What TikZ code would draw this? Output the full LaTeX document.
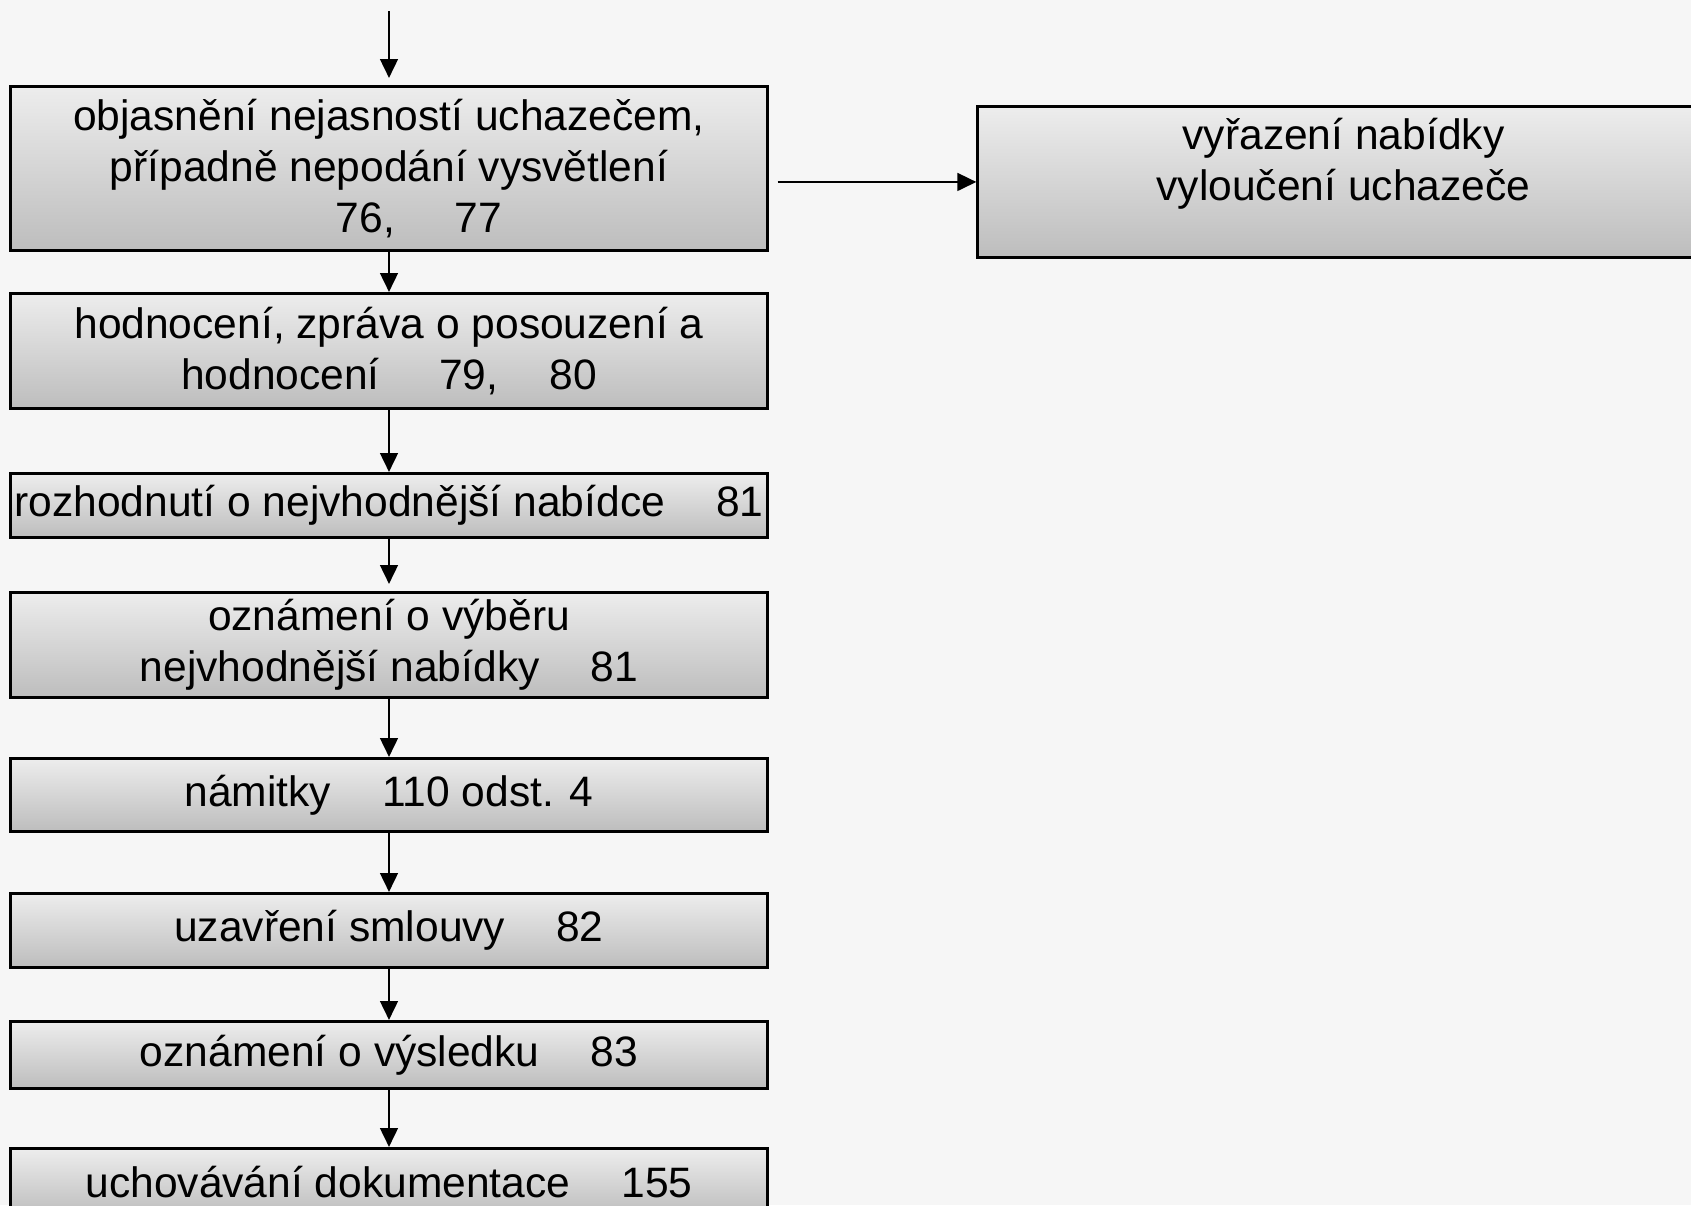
\documentclass[tikz,border=0pt]{standalone}
\usepackage{fontspec}
\setmainfont{Liberation Sans}
\usetikzlibrary{arrows.meta}

\definecolor{bgGray}{HTML}{F6F6F6}
\definecolor{boxTop}{HTML}{EDEDED}
\definecolor{boxBottom}{HTML}{BDBDBD}

\begin{document}
\begin{tikzpicture}[x=0.01cm, y=-0.01cm,
    box/.style={draw=black, line width=0.8pt, top color=boxTop, bottom color=boxBottom,
        minimum width=7.56cm, inner sep=0pt, align=center, anchor=north,
        font=\fontsize{12.1}{14.4}\selectfont},
    flow/.style={-{Triangle[length=5.4pt, width=5pt]}, line width=0.8pt}]
    \def\gap{\hspace{1.2em}} % tab between text and paragraph number

    % page and background
    \useasboundingbox (0,0) rectangle (1691,1205);
    \clip (0,0) rectangle (1691,1205);
    \fill[bgGray] (0,0) rectangle (1691,1205);

    % main column of steps
    \node[box, minimum height=1.64cm] (explain) at (389,85)
        {objasnění nejasností uchazečem,\\případně nepodání vysvětlení\\\hspace*{1.4em}76,\hspace{1.4em}77};
    \node[box, minimum height=1.15cm] (rating) at (389,292)
        {hodnocení, zpráva o posouzení a\\hodnocení\hspace{1.4em}79,\hspace{1.2em}80};
    \node[box, minimum height=0.64cm] (decision) at (389,472)
        {rozhodnutí o nejvhodnější nabídce\gap 81};
    \node[box, minimum height=1.05cm] (notice) at (389,591)
        {oznámení o výběru\\nejvhodnější nabídky\gap 81};
    \node[box, minimum height=0.73cm] (objection) at (389,757)
        {námitky\gap 110 odst. 4};
    \node[box, minimum height=0.74cm] (contract) at (389,892)
        {uzavření smlouvy\gap 82};
    \node[box, minimum height=0.67cm] (result) at (389,1020)
        {oznámení o výsledku\gap 83};
    \node[box, minimum height=0.67cm] (archive) at (389,1147)
        {uchovávání dokumentace\gap 155};

    % side branch
    \node[box, minimum width=7.31cm, minimum height=1.51cm] (exclusion) at (1343.5,105)
        {vyřazení nabídky\\vyloučení uchazeče\\[-6pt]\strut};

    % connectors
    \coordinate (start) at (389,11);
    \draw[flow, shorten >=0.07cm] (start) -- (explain.north);
    \draw[flow] (explain) -- (rating);
    \draw[flow] (rating) -- (decision);
    \draw[flow, shorten >=0.07cm] (decision) -- (notice);
    \draw[flow] (notice) -- (objection);
    \draw[flow] (objection) -- (contract);
    \draw[flow] (contract) -- (result);
    \draw[flow] (result) -- (archive);
    \draw[flow, shorten <=0.09cm] (explain.east |- exclusion.west) -- (exclusion.west);
\end{tikzpicture}
\end{document}
